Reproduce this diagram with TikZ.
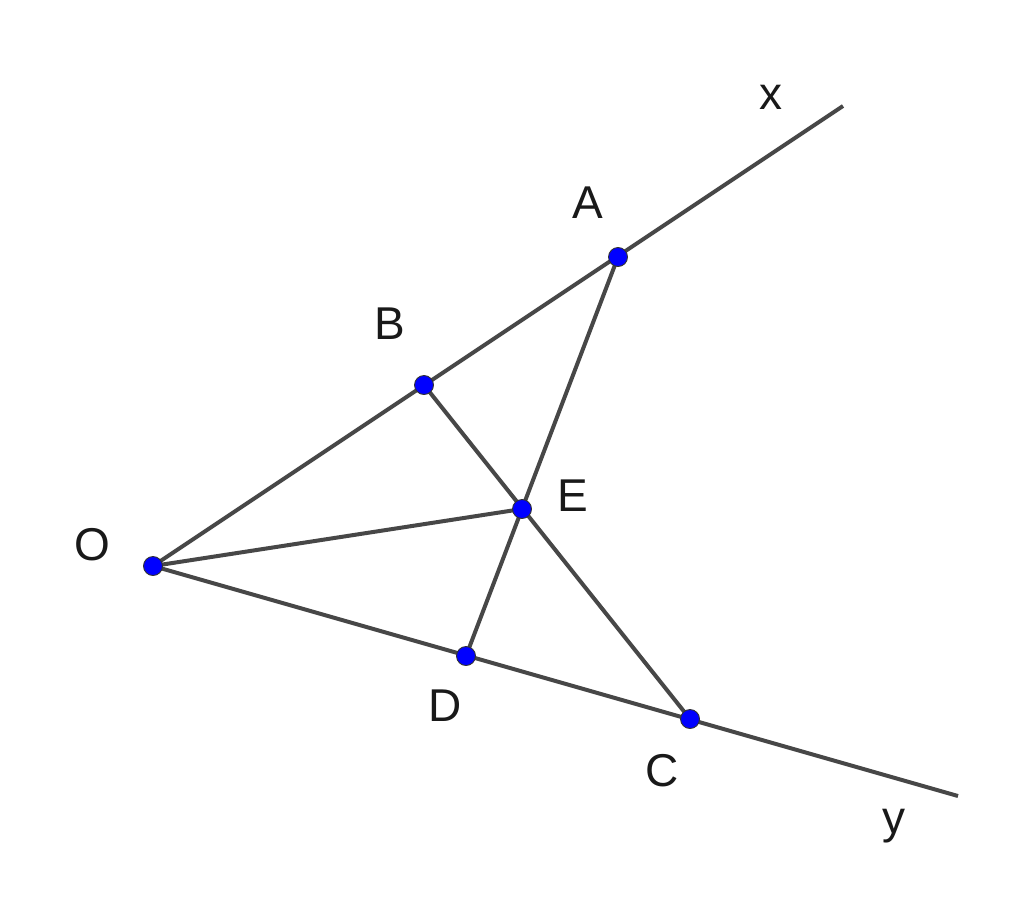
\documentclass[tikz,border=0pt]{standalone}
\usepackage{fontspec}
\setmainfont{Liberation Sans}
\begin{document}
\begin{tikzpicture}[x=1pt,y=-1pt,
  seg/.style={draw=black!72, line width=4pt},
  pt/.style={circle, fill=blue, draw=black!80, line width=0.9pt, minimum size=19pt, inner sep=0pt},
  lbl/.style={font=\fontsize{46}{50}\selectfont, text=black!90, inner sep=0pt}]
\useasboundingbox (0,0) rectangle (1024,902);
\coordinate (O) at (153,566);
\coordinate (B) at (424,385);
\coordinate (A) at (618,257);
\coordinate (X) at (843,106);
\coordinate (E) at (522,509);
\coordinate (D) at (466,656);
\coordinate (C) at (690,719);
\coordinate (Y) at (958,796);
\draw[seg] (O) -- (X);
\draw[seg] (O) -- (Y);
\draw[seg] (O) -- (E);
\draw[seg] (A) -- (D);
\draw[seg] (B) -- (C);
\foreach \p in {O,B,A,E,D,C} \node[pt] (n\p) at (\p) {};
\node[lbl] (lx) at (771,97) {x};
\node[lbl] (lA) at (588,203) {A};
\node[lbl] (lB) at (390,324) {B};
\node[lbl] (lO) at (92,545) {O};
\node[lbl] (lE) at (573,496) {E};
\node[lbl] (lD) at (445,706) {D};
\node[lbl] (lC) at (662,771) {C};
\node[lbl] (ly) at (894,826) {y};
\end{tikzpicture}
\end{document}
